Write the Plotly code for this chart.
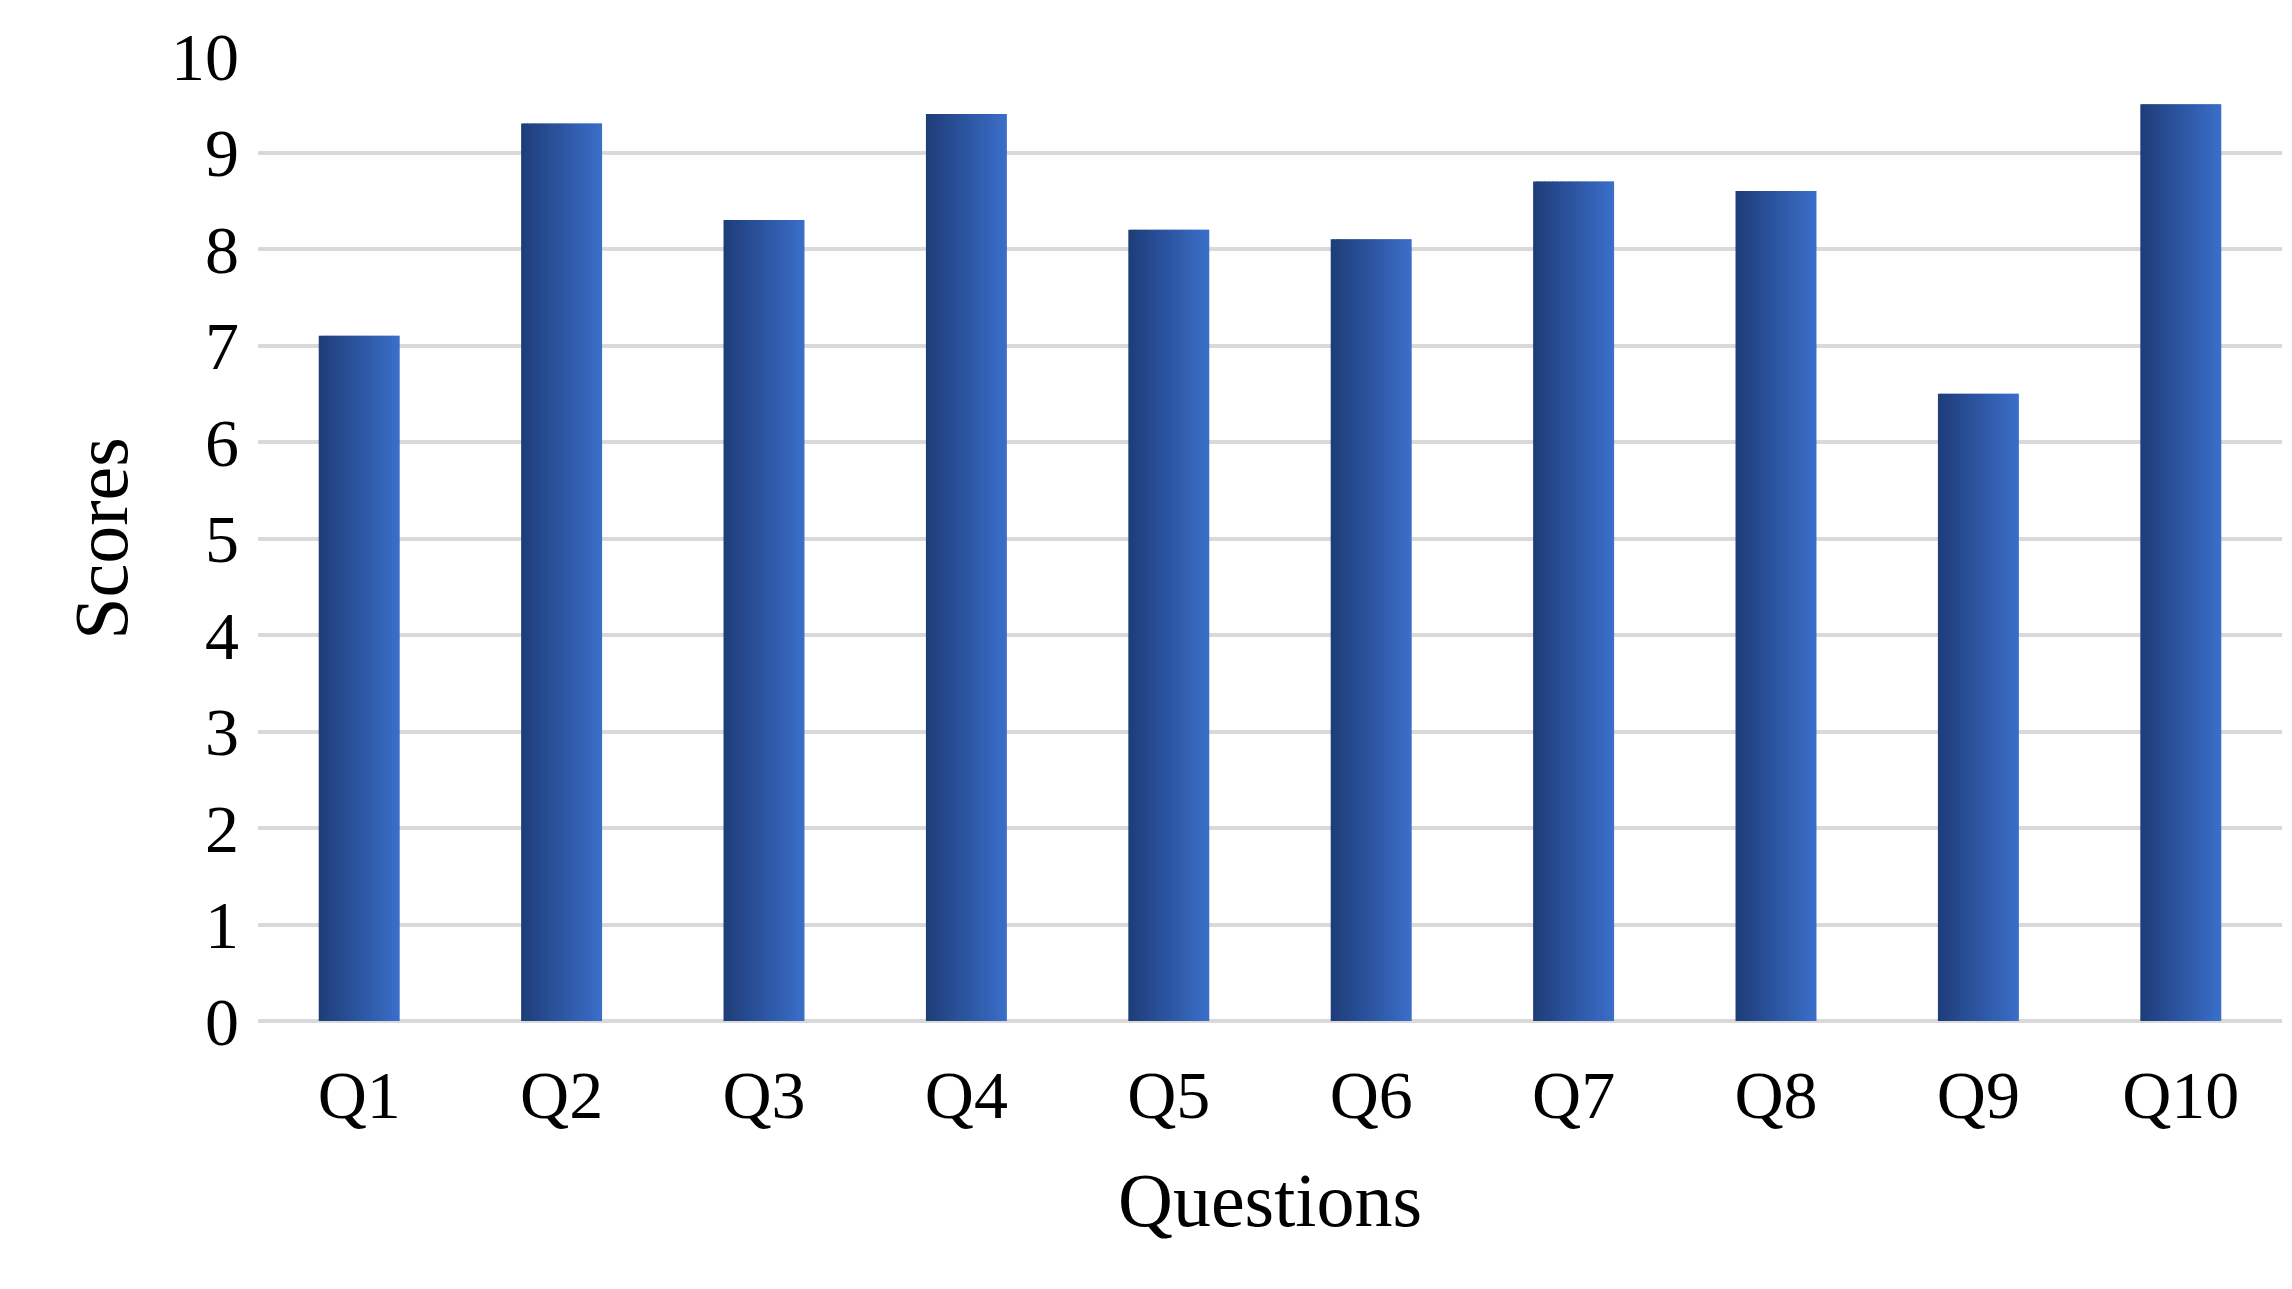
import plotly.graph_objects as go

categories = ["Q1","Q2","Q3","Q4","Q5","Q6","Q7","Q8","Q9","Q10"]
scores = [7.1, 9.3, 8.3, 9.4, 8.2, 8.1, 8.7, 8.6, 6.5, 9.5]
y_ticks = [0,1,2,3,4,5,6,7,8,9,10]

fig = go.Figure()
n = 30
bw = 0.4
c0 = (31, 61, 122); c1 = (58, 110, 200)
for i in range(n):
    t = i/(n-1)
    col = "rgb(%d,%d,%d)" % tuple(round(a+(b-a)*t) for a, b in zip(c0, c1))
    w = bw/n*1.6 if i < n-1 else bw/n
    fig.add_bar(x=categories, y=scores, width=w, offset=-bw/2 + i*bw/n,
                marker=dict(color=col, line=dict(width=0)), showlegend=False, hoverinfo="skip")

font = "Liberation Serif, Times New Roman, serif"
fig.update_layout(
    width=2292, height=1289, barmode="overlay",
    margin=dict(l=250, r=18, t=48, b=276),
    plot_bgcolor="white", paper_bgcolor="white",
    font=dict(family=font, size=68, color="black"),
    xaxis=dict(title=dict(text="Questions", font=dict(size=76), standoff=40),
               showgrid=False, ticks="", showline=False, ticklabelstandoff=28),
    yaxis=dict(title=dict(text="Scores", font=dict(size=76), standoff=18),
               range=[0, 10], tickvals=y_ticks, showgrid=True, gridcolor="#D9D9D9",
               gridwidth=4, zeroline=True, zerolinecolor="#D9D9D9", zerolinewidth=4,
               ticks="", showline=False, ticklabelstandoff=18),
)
fig.write_html("out.html")
